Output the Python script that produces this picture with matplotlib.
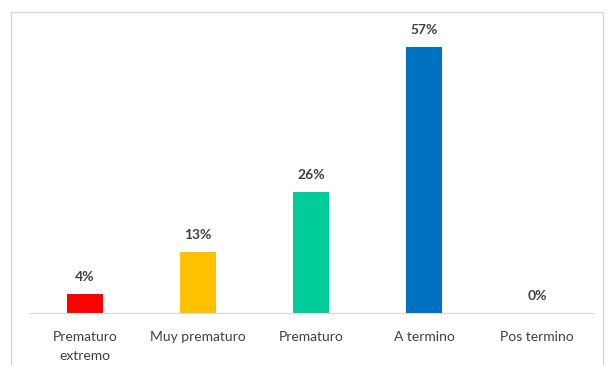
import matplotlib
matplotlib.use("Agg")
import matplotlib.pyplot as plt
from matplotlib.patches import Rectangle

# Data
categories = ["Prematuro\nextremo", "Muy prematuro", "Prematuro", "A termino", "Pos termino"]
values = [4, 13, 26, 57, 0]
colors = ["#FF0000", "#FFC000", "#00CC99", "#0070C0", "#A5A5A5"]

plt.rcParams['font.family'] = ['Lato', 'DejaVu Sans']

fig = plt.figure(figsize=(6.07, 3.65), dpi=100)
ax = fig.add_axes([0.047, 0.1425, 0.931, 0.767])

x = range(len(categories))
bars = ax.bar(x, values, width=0.32, color=colors)

for xi, v in zip(x, values):
    ax.annotate("{}%".format(v), (xi, v), xytext=(0, 8), textcoords="offset points",
                ha="center", va="bottom", fontsize=10, fontweight="bold", color="#404040")

ax.set_xlim(-0.5, len(categories) - 0.5)
ax.set_ylim(0, 60)
ax.set_xticks(list(x))
ax.set_xticklabels(categories, fontsize=10, color="#404040", linespacing=1.7)
ax.tick_params(axis="x", length=0, pad=13)
ax.set_yticks([])
for side in ["top", "right", "left"]:
    ax.spines[side].set_visible(False)
ax.spines["bottom"].set_color("#D9D9D9")

# light chart border
fig.patches.append(Rectangle((11 / 607, -0.01), 592 / 607, 1 - 12 / 365 + 0.01,
                             transform=fig.transFigure, fill=False,
                             edgecolor="#D9D9D9", linewidth=1))

fig.savefig("out.png", dpi=100)
